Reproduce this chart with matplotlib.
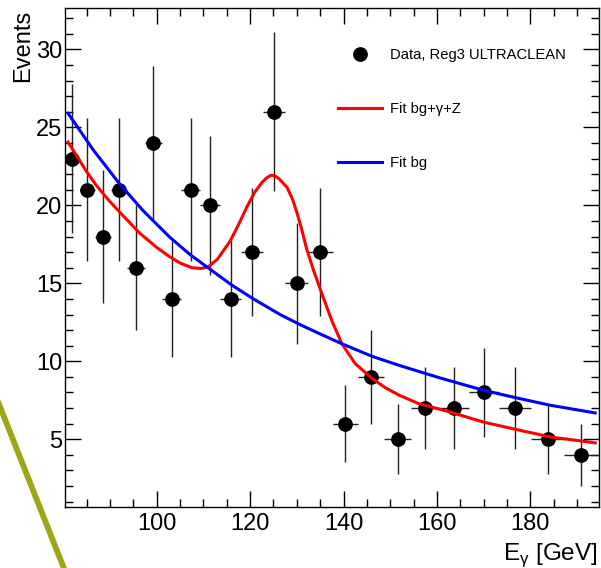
import numpy as np
import matplotlib
matplotlib.use("Agg")
import matplotlib.pyplot as plt
from matplotlib.lines import Line2D

plt.rcParams['font.family'] = ['Liberation Sans', 'DejaVu Sans']
plt.rcParams['mathtext.fontset'] = 'custom'
plt.rcParams['mathtext.rm'] = 'Liberation Sans'

# ===== DATA =====
# bin edges in E_gamma [GeV] (log-like binning)
bin_edges = [80.35, 83.50, 86.77, 90.17, 93.71, 97.38, 101.20, 105.17, 109.29,
             113.58, 118.03, 122.66, 127.47, 132.47, 137.66, 143.06, 148.67,
             154.50, 160.55, 166.85, 173.39, 180.19, 187.25, 194.59]
counts = [23, 21, 18, 21, 16, 24, 14, 21, 20, 14, 17, 26, 15, 17,
          6, 9, 5, 7, 7, 8, 7, 5, 4]

# fit bg + gamma + Z (red)
fit_sig_x = [81.0, 83.0, 85.0, 87.0, 89.5, 92.1, 96.4, 100.0, 102.8, 105.0,
             107.5, 109.5, 111.0, 113.0, 115.7, 117.5, 119.3, 121.0, 122.5,
             123.5, 124.4, 125.2, 126.2, 127.9, 129.0, 130.0, 131.0, 132.1, 133.5,
             135.4, 137.5, 139.6, 142.5, 146.1, 149.0, 152.1, 156.0, 162.8,
             170.0, 177.1, 184.3, 193.9]
fit_sig_y = [24.05, 23.1, 22.15, 21.3, 20.4, 19.55, 18.2, 17.3, 16.7, 16.3,
             16.0, 15.95, 16.05, 16.55, 17.7, 18.75, 19.9, 20.85, 21.45,
             21.75, 21.92, 21.9, 21.7, 21.15, 20.45, 19.55, 18.5, 17.2, 15.9,
             14.3, 12.6, 11.15, 9.85, 8.9, 8.3, 7.8, 7.3, 6.75,
             6.1, 5.62, 5.15, 4.77]

# fit bg only (blue)
fit_bg_x = [81.0, 86.4, 92.1, 97.1, 102.8, 107.1, 112.1, 116.0, 120.7, 126.4,
            130.7, 135.0, 139.6, 146.1, 152.1, 160.7, 170.0, 177.1, 184.3, 193.9]
fit_bg_y = [25.9, 23.55, 21.35, 19.65, 17.95, 16.85, 15.75, 14.9, 14.0, 13.0,
            12.35, 11.75, 11.13, 10.32, 9.72, 8.93, 8.14, 7.65, 7.18, 6.69]

legend_labels = ["Data, Reg3 ULTRACLEAN", "Fit bg+γ+Z", "Fit bg"]

# ===== PLOT =====
W, H = 601, 568
fig = plt.figure(figsize=(W / 100, H / 100), dpi=100)
ax = fig.add_axes([65 / W, 1 - 507.3 / H, (598.5 - 65) / W, (507.3 - 8.3) / H])

edges = np.array(bin_edges)
centers = 0.5 * (edges[1:] + edges[:-1])
half_w = 0.5 * (edges[1:] - edges[:-1])
n = np.array(counts, dtype=float)

ax.errorbar(centers, n, yerr=np.sqrt(n), xerr=half_w, fmt='o', color='black',
            ecolor='#222222', elinewidth=1.0, capsize=0, ms=9.6, zorder=3)
ax.plot(fit_sig_x, fit_sig_y, color='#ff0000', lw=2.2, zorder=4)
ax.plot(fit_bg_x, fit_bg_y, color='#0000ff', lw=2.2, zorder=4)

ax.set_xlim(80.35, 194.6)
ax.set_ylim(0.64, 32.63)
ax.set_xticks([100, 120, 140, 160, 180])
ax.set_xticks(np.arange(85, 195, 5), minor=True)
ax.set_yticks([5, 10, 15, 20, 25, 30])
ax.set_yticks(np.arange(1, 33, 1), minor=True)
ax.tick_params(which='both', direction='in', top=True, right=True,
               labelsize=17, width=1.0)
ax.tick_params(which='major', length=11.5)
ax.tick_params(which='minor', length=5.8)
ax.tick_params(axis='y', pad=2)
ax.tick_params(axis='x', pad=4)
for sp in ax.spines.values():
    sp.set_linewidth(1.0)

fig.text(23 / W, 1 - 10 / H, "Events", rotation=90, ha='center', va='top',
         fontsize=17)
fig.text(598 / W, 1 - 560 / H, "E$_\\mathregular{γ}$ [GeV]", ha='right',
         va='baseline', fontsize=17.5)

handles = [Line2D([], [], marker='o', ls='none', color='black', ms=9.6),
           Line2D([], [], color='#ff0000', lw=2.2),
           Line2D([], [], color='#0000ff', lw=2.2)]
fig.legend(handles, legend_labels, loc='upper left',
           bbox_to_anchor=(338 / W, 1 - 48.2 / H), frameon=False,
           fontsize=10.6, handlelength=3.0, handletextpad=0.54,
           labelspacing=2.7, borderpad=0, borderaxespad=0)

# olive diagonal stroke at lower left (outside the frame)
fig.add_artist(Line2D([-10 / W, 70 / W], [1 - 381.4 / H, 1 - 583.7 / H],
                      transform=fig.transFigure, color='#9ea617', lw=4.2))

fig.savefig("out.png", dpi=100)
